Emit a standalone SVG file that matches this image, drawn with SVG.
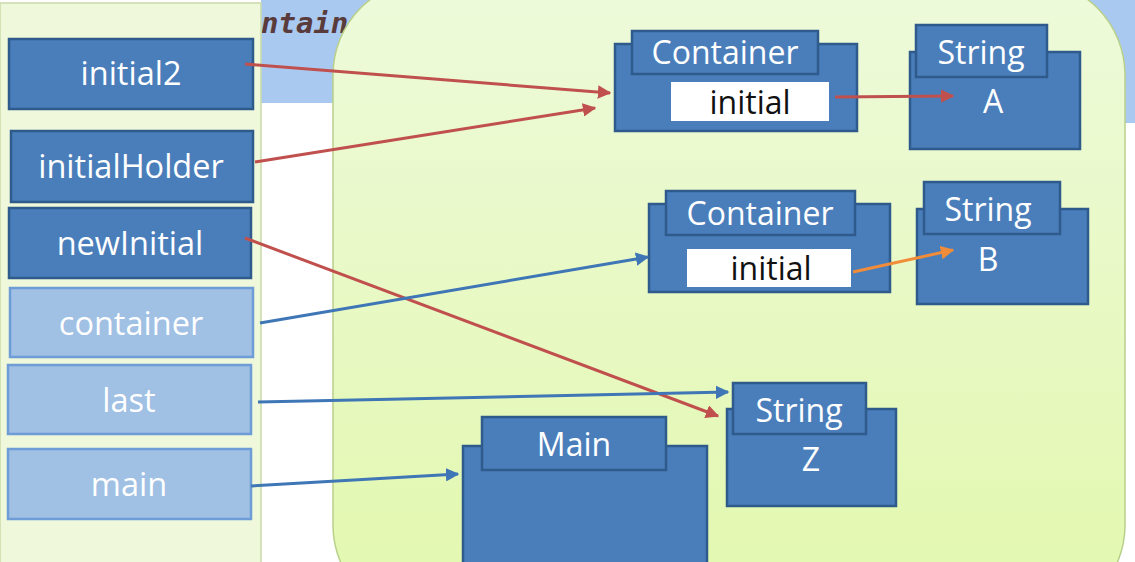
<svg xmlns="http://www.w3.org/2000/svg" width="1135" height="562" viewBox="0 0 1135 562">
<defs>
<linearGradient id="heapG" x1="0" y1="0" x2="0" y2="1">
<stop offset="0" stop-color="#eefadb"/>
<stop offset="1" stop-color="#e2f8ad"/>
</linearGradient>
<marker id="arR" viewBox="0 0 10 10" refX="9" refY="5" markerWidth="4.5" markerHeight="4.5" orient="auto" markerUnits="strokeWidth"><path d="M0,0 L10,5 L0,10 z" fill="#c0504d"/></marker>
<marker id="arB" viewBox="0 0 10 10" refX="9" refY="5" markerWidth="4.5" markerHeight="4.5" orient="auto" markerUnits="strokeWidth"><path d="M0,0 L10,5 L0,10 z" fill="#3f76b6"/></marker>
<marker id="arO" viewBox="0 0 10 10" refX="9" refY="5" markerWidth="4.5" markerHeight="4.5" orient="auto" markerUnits="strokeWidth"><path d="M0,0 L10,5 L0,10 z" fill="#f08c3a"/></marker>
</defs>
<style>
.var{fill:#4a7ebb;stroke:#2e5a8c;stroke-width:2.5}
.varL{fill:#a0c0e4;stroke:#6e9cd6;stroke-width:2.5}
.obj{fill:#4a7ebb;stroke:#2e5a8c;stroke-width:2.5}
.fld{fill:#ffffff}
.t{font-family:"Open Sans",Lato,sans-serif;fill:#ffffff;text-anchor:middle;font-variant-ligatures:none}
.tv{font-size:32.5px}
.to{font-size:32px}
.tf{font-family:"Open Sans",Lato,sans-serif;fill:#111111;text-anchor:middle;font-size:32px;font-variant-ligatures:none}
.c{fill:none;stroke-width:3}
.red{stroke:#c0504d}
.blue{stroke:#3f76b6}
.orange{stroke:#f08c3a}
</style>
<!-- background -->
<rect x="0" y="0" width="1135" height="562" fill="#ffffff"/>
<rect x="261" y="0" width="874" height="103" fill="#a9c9f1"/>
<rect x="1000" y="0" width="135" height="123" fill="#a9c9f1"/>
<text x="261" y="33" font-family="'DejaVu Sans Mono',monospace" font-style="italic" font-weight="bold" font-size="29" fill="#5a3b3b">ntain</text>
<rect x="0" y="3" width="261" height="580" fill="#eff8da" stroke="#c9daa9" stroke-width="1.5"/>
<rect x="333" y="-20" width="792" height="640" rx="95" ry="95" fill="url(#heapG)" stroke="#b9d08a" stroke-width="1.5"/>

<g id="var-initial2"><rect class="var" x="9" y="39" width="244" height="70"/><text class="t tv" x="131" y="85">initial2</text></g>
<g id="var-initialHolder"><rect class="var" x="11" y="131" width="242" height="71"/><text class="t tv" x="131" y="178">initialHolder</text></g>
<g id="var-newInitial"><rect class="var" x="9" y="208" width="242" height="70"/><text class="t tv" x="130" y="255">newInitial</text></g>
<g id="var-container"><rect class="varL" x="10" y="288" width="243" height="69"/><text class="t tv" x="131" y="335">container</text></g>
<g id="var-last"><rect class="varL" x="8" y="365" width="243" height="69"/><text class="t tv" x="129" y="412">last</text></g>
<g id="var-main"><rect class="varL" x="8" y="449" width="243" height="70"/><text class="t tv" x="129" y="496">main</text></g>

<g id="obj-container1">
<rect class="obj" x="615" y="44" width="242" height="87"/>
<rect class="obj" x="632" y="31" width="186" height="43"/>
<text class="t to" x="725" y="64">Container</text>
<rect class="fld" x="671" y="82" width="158" height="39"/>
<text class="tf" x="750" y="114">initial</text>
</g>
<g id="obj-stringA">
<rect class="obj" x="910" y="52" width="170" height="97"/>
<rect class="obj" x="916" y="25" width="131" height="52"/>
<text class="t to" x="981" y="64">String</text>
<text class="t to" x="993" y="113">A</text>
</g>
<g id="obj-container2">
<rect class="obj" x="649" y="204" width="241" height="88"/>
<rect class="obj" x="666" y="191" width="189" height="44"/>
<text class="t to" x="760" y="225">Container</text>
<rect class="fld" x="687" y="249" width="164" height="38"/>
<text class="tf" x="771" y="280">initial</text>
</g>
<g id="obj-stringB">
<rect class="obj" x="917" y="209" width="171" height="95"/>
<rect class="obj" x="924" y="182" width="136" height="52"/>
<text class="t to" x="988" y="221">String</text>
<text class="t to" x="988" y="271">B</text>
</g>
<g id="obj-stringZ">
<rect class="obj" x="727" y="409" width="169" height="97"/>
<rect class="obj" x="733" y="383" width="133" height="51"/>
<text class="t to" x="799" y="422">String</text>
<text class="t to" x="811" y="471">Z</text>
</g>
<g id="obj-main">
<rect class="obj" x="463" y="446" width="244" height="130"/>
<rect class="obj" x="482" y="417" width="184" height="53"/>
<text class="t to" x="574" y="456">Main</text>
</g>

<g id="connectors">
<line class="c red" x1="245" y1="64" x2="610" y2="93" marker-end="url(#arR)"/>
<line class="c red" x1="255" y1="162" x2="595" y2="108" marker-end="url(#arR)"/>
<line class="c red" x1="245" y1="238" x2="718" y2="416" marker-end="url(#arR)"/>
<line class="c red" x1="835" y1="97" x2="953" y2="96" marker-end="url(#arR)"/>
<line class="c blue" x1="260" y1="323" x2="648" y2="257" marker-end="url(#arB)"/>
<line class="c orange" x1="853" y1="272" x2="953" y2="250" marker-end="url(#arO)"/>
<line class="c blue" x1="258" y1="402" x2="728" y2="392" marker-end="url(#arB)"/>
<line class="c blue" x1="251" y1="486" x2="458" y2="474" marker-end="url(#arB)"/>
</g>
</svg>
